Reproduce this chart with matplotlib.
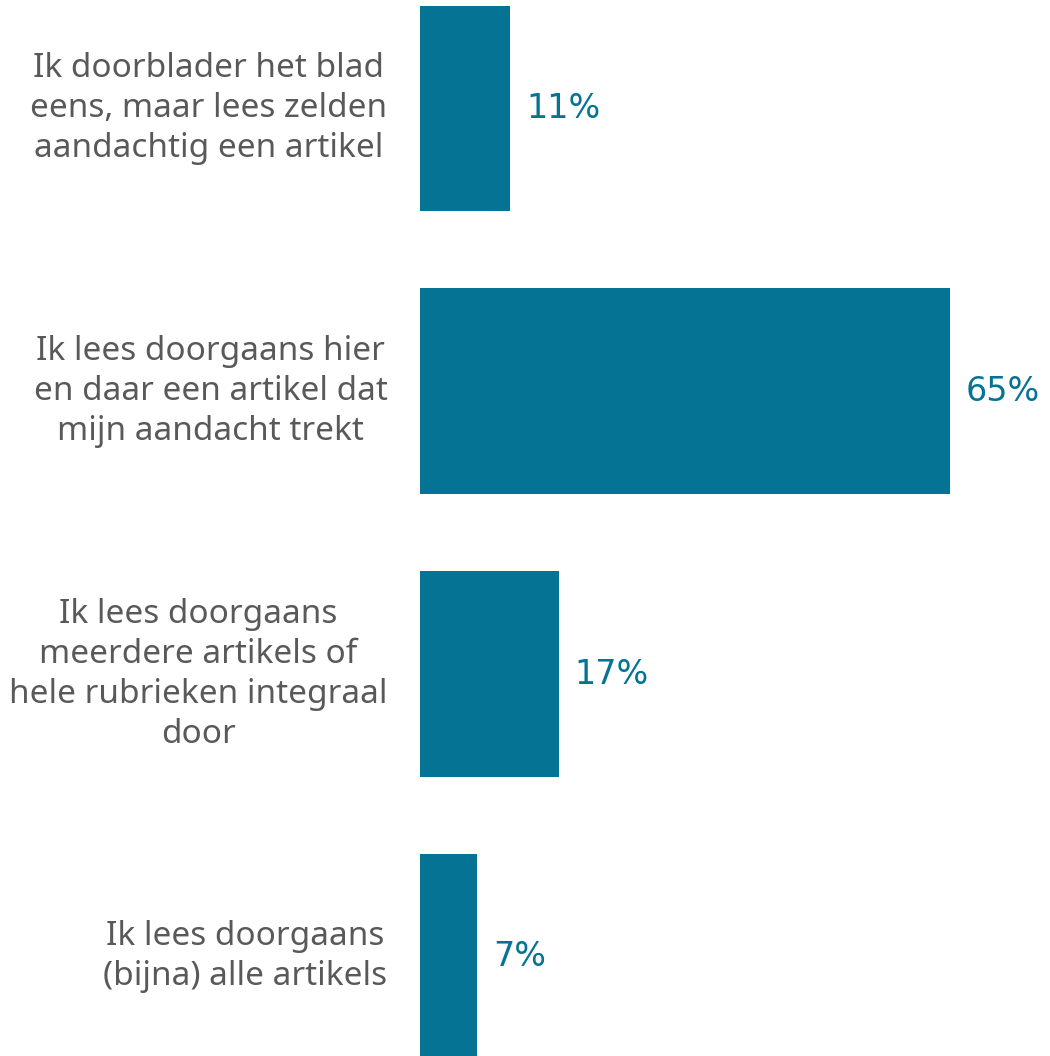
import matplotlib.pyplot as plt

categories = [
    "Ik doorblader het blad\neens, maar lees zelden\naandachtig een artikel",
    "Ik lees doorgaans hier\nen daar een artikel dat\nmijn aandacht trekt",
    "Ik lees doorgaans\nmeerdere artikels of\nhele rubrieken integraal\ndoor",
    "Ik lees doorgaans\n(bijna) alle artikels",
]
values = [11, 65, 17, 7]

bar_color = "#047394"
text_color = "#595959"

plt.rcParams['font.family'] = ['Noto Sans', 'DejaVu Sans']

fig = plt.figure(figsize=(10.5, 10.56), dpi=100)
ax = fig.add_axes([420 / 1050, 0, 630 / 1050, 1])

ypos = list(range(len(values)))
ax.barh(ypos, values, height=0.725, color=bar_color)
ax.set_ylim(3.35, -0.382)
ax.set_xlim(0, 77.3)

for y, v, lab in zip(ypos, values, categories):
    ax.text(v + 2.0, y, f"{v}%", va='center', ha='left', fontsize=24,
            color=bar_color, family='DejaVu Sans')
    ax.text(-4.0, y, lab, va='center', ha='right', multialignment='center',
            fontsize=24, color=text_color, linespacing=1.28)

ax.axis('off')
fig.savefig("out.png", dpi=100)
